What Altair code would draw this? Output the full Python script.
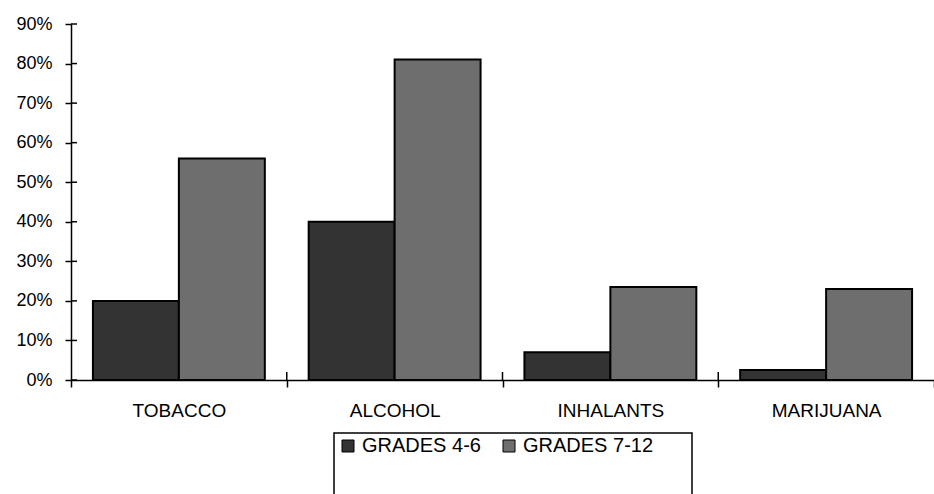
import altair as alt
import pandas as pd

# Share of students reporting use, by substance and grade band (percent)
categories = ["TOBACCO", "ALCOHOL", "INHALANTS", "MARIJUANA"]
groups = ["GRADES 4-6", "GRADES 7-12"]
grades_4_6 = [20, 40, 7, 2.5]
grades_7_12 = [56, 81, 23.5, 23]
y_ticks = [0, 10, 20, 30, 40, 50, 60, 70, 80, 90]

rows = []
for cat, a, b in zip(categories, grades_4_6, grades_7_12):
    rows.append({"category": cat, "group": groups[0], "value": a / 100})
    rows.append({"category": cat, "group": groups[1], "value": b / 100})
df = pd.DataFrame(rows)
ticks_df = pd.DataFrame({"value": [v / 100 for v in y_ticks]})
cats_df = pd.DataFrame({"category": categories[1:]})

W, H = 863, 356
FONT = "Liberation Sans"

x_axis = alt.Axis(
    title=None, labelAngle=0, tickBand="extent", grid=False,
    domainColor="black", domainWidth=1.5, tickColor="black", tickWidth=1.5,
    tickSize=7, labelPadding=14, labelFont=FONT, labelFontSize=19,
    labelColor="black",
)
y_axis = alt.Axis(
    title=None, format=".0%", values=[v / 100 for v in y_ticks], grid=False,
    domainColor="black", domainWidth=1.5, tickColor="black", tickWidth=1.5,
    tickSize=6, labelPadding=13, labelFont=FONT, labelFontSize=18,
    labelColor="black", labelOverlap=False,
)
x_scale = alt.Scale(paddingInner=0, paddingOuter=0)
y_scale = alt.Scale(domain=[0, 0.9], nice=False)

bars = alt.Chart(df).mark_bar(stroke="black", strokeWidth=2).encode(
    x=alt.X("category:N", sort=categories, scale=x_scale, axis=x_axis),
    xOffset=alt.XOffset("group:N", sort=groups,
                        scale=alt.Scale(paddingInner=0, paddingOuter=0.255)),
    y=alt.Y("value:Q", scale=y_scale, axis=y_axis),
    color=alt.Color(
        "group:N",
        sort=groups,
        scale=alt.Scale(domain=groups, range=["#333333", "#6e6e6e"]),
        legend=alt.Legend(
            title=None, orient="none", legendX=267, legendY=412,
            direction="horizontal", symbolType="square", symbolSize=144,
            symbolStrokeColor="black", symbolStrokeWidth=1, symbolOpacity=1,
            labelFont=FONT, labelFontSize=20, labelColor="black",
            labelOffset=4, columnPadding=18, padding=0,
        ),
    ),
)

# tick marks on the inner side of the value axis
y_inner = alt.Chart(ticks_df).mark_rule(color="black", strokeWidth=1.5).encode(
    y=alt.Y("value:Q", scale=y_scale, axis=y_axis), x=alt.value(0), x2=alt.value(6)
)

# tick marks above the category axis at each band boundary
x_inner = alt.Chart(cats_df).mark_rule(color="black", strokeWidth=1.5).encode(
    x=alt.X("category:N", sort=categories, scale=x_scale, axis=x_axis, bandPosition=0),
    y=alt.value(H - 8), y2=alt.value(H),
)

# frame around the legend
frame = alt.Chart(pd.DataFrame({"k": [0]})).mark_rect(
    fillOpacity=0, stroke="black", strokeWidth=1.5
).encode(x=alt.value(263), x2=alt.value(621), y=alt.value(409), y2=alt.value(520))

chart = (
    alt.layer(bars, y_inner, x_inner, frame)
    .properties(
        width=W, height=H,
        autosize=alt.AutoSizeParams(type="none"),
        padding={"left": 71, "top": 24, "right": 0, "bottom": 114},
        background="white",
    )
    .configure_view(stroke=None)
)

chart.save("out.html", embed_options={"renderer": "svg", "actions": False})
